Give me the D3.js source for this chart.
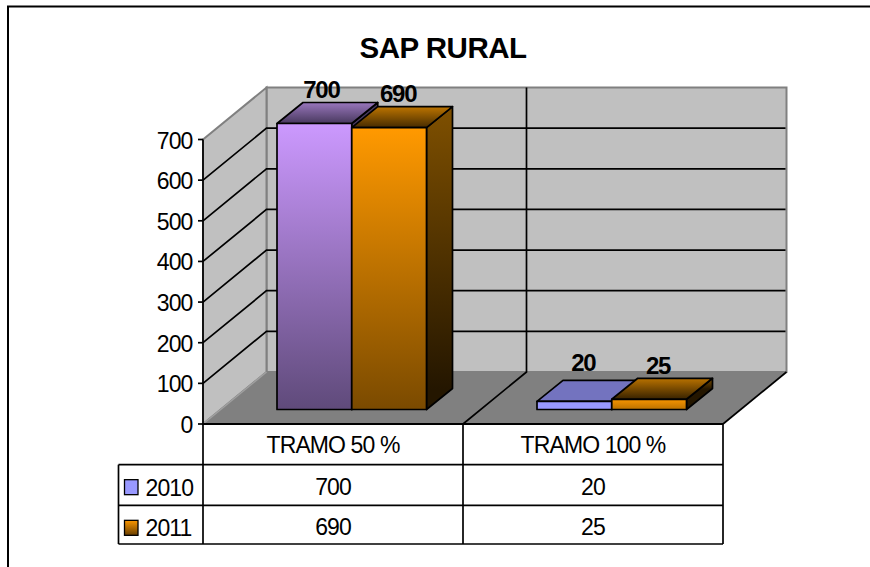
<!DOCTYPE html>
<html>
  <head>
    <meta charset="utf-8">
    <title>SAP RURAL</title>
    <style>
      body { margin: 0; background: #fff; }
      text { font-family: "Liberation Sans", Arial, sans-serif; fill: #000; }
      .tick-label { font-size: 23px; letter-spacing: -0.9px; }
      .table-label { font-size: 23px; letter-spacing: -0.9px; }
      .value-label { font-size: 24px; font-weight: bold; letter-spacing: -1.2px; }
      .chart-title { font-size: 29.5px; font-weight: bold; letter-spacing: -0.5px; }
    </style>
  </head>
  <body>
    <script src="https://d3js.org/d3.v7.min.js"></script>
    <script>
      const categories = ["TRAMO 50 %", "TRAMO 100 %"];
      const seriesNames = ["2010", "2011"];
      const values2010 = [700, 20];
      const values2011 = [690, 25];
      const yTicks = [0, 100, 200, 300, 400, 500, 600, 700];

      const width = 870;
      const height = 567;

      // floor front edge, depth of the box and depth of a bar
      const floorY = 424;
      const left = 203;
      const right = 723;
      const depthX = 63.5;
      const depthY = 52;
      const barDepthX = 26;
      const barDepthY = 21;
      const barBase = 409.5;

      const svg = d3.select("body")
        .append("svg")
        .attr("width", width)
        .attr("height", height)
        .style("display", "block");

      const y = d3.scaleLinear().domain([0, 700]).range([floorY, 139.5]);
      const barHeight = d3.scaleLinear().domain([0, 700]).range([0, 286]);
      const xGroup = d3.scaleBand().domain(categories).range([left, right]);
      const xBar = d3.scaleBand().domain(seriesNames).range([0, 149.5]);

      const poly = pts => "M" + pts.map(p => p.join(",")).join("L") + "Z";

      const defs = svg.append("defs");
      function gradient(id, from, to, y1, y2) {
        const g = defs.append("linearGradient").attr("id", id)
          .attr("gradientUnits", "userSpaceOnUse")
          .attr("x1", 0).attr("x2", 0).attr("y1", y1).attr("y2", y2);
        g.append("stop").attr("offset", 0).attr("stop-color", from);
        g.append("stop").attr("offset", 1).attr("stop-color", to);
        return `url(#${id})`;
      }

      // chart frame, runs off the right and bottom of the picture
      svg.append("path")
        .attr("d", `M8,${height}V6.5H${width}`)
        .attr("fill", "none")
        .attr("stroke", "#000")
        .attr("stroke-width", 2);

      svg.append("text")
        .attr("class", "chart-title")
        .attr("x", 443)
        .attr("y", 58)
        .attr("text-anchor", "middle")
        .text("SAP RURAL");

      // walls and floor
      const wallFill = "#c0c0c0";
      const wallLine = "#808080";
      svg.append("path")
        .attr("d", poly([[left + depthX, y(700) - depthY], [right + depthX, y(700) - depthY], [right + depthX, floorY - depthY], [left + depthX, floorY - depthY]]))
        .attr("fill", wallFill).attr("stroke", wallLine).attr("stroke-width", 2);
      svg.append("path")
        .attr("d", poly([[left, y(700)], [left + depthX, y(700) - depthY], [left + depthX, floorY - depthY], [left, floorY]]))
        .attr("fill", wallFill).attr("stroke", wallLine).attr("stroke-width", 2);

      // gridlines, skipping the first and the last
      yTicks.slice(1, -1).forEach(t => {
        svg.append("path")
          .attr("d", `M${left},${y(t)}L${left + depthX},${y(t) - depthY}H${right + depthX - 1}`)
          .attr("fill", "none").attr("stroke", "#000").attr("stroke-width", 1.7);
      });

      svg.append("path")
        .attr("d", poly([[left, floorY], [left + depthX, floorY - depthY], [right + depthX, floorY - depthY], [right, floorY]]))
        .attr("fill", "#808080").attr("stroke", "none");
      svg.append("path")
        .attr("d", `M${left + depthX},${floorY - depthY}L${left},${floorY}`)
        .attr("fill", "none").attr("stroke", "#a0a0a0").attr("stroke-width", 1.5);
      svg.append("path")
        .attr("d", `M${right},${floorY}L${right + depthX},${floorY - depthY}`)
        .attr("fill", "none").attr("stroke", "#000").attr("stroke-width", 1.7);

      // divider between the categories on floor and back wall
      const midX = xGroup("TRAMO 100 %");
      svg.append("path")
        .attr("d", `M${midX},${floorY}L${midX + depthX},${floorY - depthY}V${y(700) - depthY}`)
        .attr("fill", "none").attr("stroke", "#000").attr("stroke-width", 1.7);

      // axis line and tick labels
      svg.append("line")
        .attr("x1", left).attr("x2", left)
        .attr("y1", y(700)).attr("y2", floorY)
        .attr("stroke", "#000").attr("stroke-width", 1.7);
      const tick = svg.selectAll(".y-tick").data(yTicks).enter().append("g").attr("class", "y-tick");
      tick.append("line")
        .attr("x1", left - 5).attr("x2", left)
        .attr("y1", d => y(d)).attr("y2", d => y(d))
        .attr("stroke", "#000").attr("stroke-width", 1.7);
      tick.append("text")
        .attr("class", "tick-label")
        .attr("x", left - 10.5)
        .attr("y", d => y(d) + 9)
        .attr("text-anchor", "end")
        .text(d => d);

      // bars: colours per series and per category group
      const barStyles = [
        [
          { front: gradient("f00", "#cc99ff", "#5f4a7a", 123, 410), top: gradient("t00", "#9b78bf", "#4a3a60", 102, 123), side: "#4a3a60" },
          { front: gradient("f01", "#ff9900", "#7a4a00", 129, 410), top: gradient("t01", "#bb7300", "#3f2700", 107, 129), side: gradient("s01", "#7f5000", "#241600", 107, 389) }
        ],
        [
          { front: "#9999ff", top: "#7373bf", side: "#4a4a80" },
          { front: gradient("f11", "#ff9900", "#b87000", 398, 410), top: gradient("t11", "#bb7300", "#3f2700", 378, 398), side: gradient("s11", "#7f5000", "#241600", 378, 389) }
        ]
      ];
      const barOffset = [74, 74];
      const labelNudge = [[-2, 0], [0, -4]];

      categories.forEach((cat, i) => {
        const x0 = xGroup(cat) + barOffset[i];
        [values2010[i], values2011[i]].forEach((v, s) => {
          const style = barStyles[i][s];
          const xa = x0 + xBar(seriesNames[s]);
          const xb = xa + xBar.bandwidth();
          const yTop = barBase - barHeight(v);
          const g = svg.append("g")
            .attr("stroke", "#000").attr("stroke-width", 1.7).attr("stroke-linejoin", "round");
          g.append("path")
            .attr("d", poly([[xb, yTop], [xb + barDepthX, yTop - barDepthY], [xb + barDepthX, barBase - barDepthY], [xb, barBase]]))
            .attr("fill", style.side);
          g.append("path")
            .attr("d", poly([[xa, yTop], [xa + barDepthX, yTop - barDepthY], [xb + barDepthX, yTop - barDepthY], [xb, yTop]]))
            .attr("fill", style.top);
          g.append("rect")
            .attr("x", xa).attr("y", yTop)
            .attr("width", xb - xa).attr("height", barBase - yTop)
            .attr("fill", style.front);
          svg.append("text")
            .attr("class", "value-label")
            .attr("x", (xa + xb) / 2 + 9 + labelNudge[s][0] * (i === 0 ? 1 : 0))
            .attr("y", yTop - barDepthY - 4.5 + (i === 1 && s === 0 ? -4.5 : 0))
            .attr("text-anchor", "middle")
            .text(v);
        });
      });

      // data table under the chart
      const legendLeft = 118.5;
      const tableBottom = 544;
      const rowY = d3.scaleBand().domain(["cat", ...seriesNames]).range([floorY, 546]);
      const tableLines = svg.append("g").attr("stroke", "#000").attr("stroke-width", 1.7);
      tableLines.append("line").attr("x1", left).attr("x2", right).attr("y1", floorY).attr("y2", floorY).attr("stroke-width", 2.2);
      seriesNames.forEach(s => {
        tableLines.append("line").attr("x1", legendLeft).attr("x2", right)
          .attr("y1", rowY(s)).attr("y2", rowY(s));
      });
      tableLines.append("line").attr("x1", legendLeft).attr("x2", right).attr("y1", tableBottom).attr("y2", tableBottom);
      tableLines.append("line").attr("x1", legendLeft).attr("x2", legendLeft).attr("y1", rowY("2010")).attr("y2", tableBottom);
      [left, midX, right].forEach(x => {
        tableLines.append("line").attr("x1", x).attr("x2", x).attr("y1", floorY).attr("y2", tableBottom);
      });

      categories.forEach((cat, i) => {
        const cx = xGroup(cat) + xGroup.bandwidth() / 2;
        svg.append("text").attr("class", "table-label")
          .attr("x", cx).attr("y", rowY("cat") + 29)
          .attr("text-anchor", "middle").text(cat);
        svg.append("text").attr("class", "table-label")
          .attr("x", cx).attr("y", rowY("2010") + 30)
          .attr("text-anchor", "middle").text(values2010[i]);
        svg.append("text").attr("class", "table-label")
          .attr("x", cx).attr("y", rowY("2011") + 30)
          .attr("text-anchor", "middle").text(values2011[i]);
      });

      const keyFill = { "2010": "#9999ff", "2011": gradient("key", "#ff9900", "#6b4000", 520, 535) };
      seriesNames.forEach(s => {
        svg.append("rect")
          .attr("x", 124.5).attr("y", rowY(s) + 15)
          .attr("width", 13.5).attr("height", 15)
          .attr("fill", keyFill[s])
          .attr("stroke", "#000").attr("stroke-width", 1.3);
        svg.append("text").attr("class", "table-label")
          .attr("x", 145.5).attr("y", rowY(s) + 31)
          .text(s);
      });
    </script>
  </body>
</html>
